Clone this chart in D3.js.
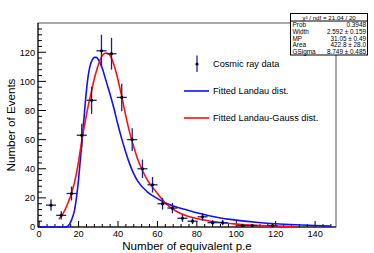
<!DOCTYPE html>
<html><head><meta charset="utf-8">
<script src="https://cdn.jsdelivr.net/npm/d3@7"></script>
<style>
html,body{margin:0;padding:0;background:#fff;}
svg{display:block;font-family:"Liberation Sans",Arial,Helvetica,sans-serif;}
</style></head>
<body><svg id="c" width="374" height="253"></svg>
<script>
// ---- data ----
const binCenters = [6.0, 11.2, 16.4, 21.6, 26.6, 31.6, 36.7, 41.9, 47.2, 52.4, 57.5, 62.6, 67.6, 72.7, 77.8, 82.9, 88.0, 93.1, 103.0, 108.1, 118.4];
const counts     = [15, 8, 23, 63, 87, 121, 119, 89, 60, 40, 29, 16, 13, 6, 4, 7, 3, 3, 1, 1, 1];
const binHalfWidth = 2.55;

const landauX = [0, 13, 14.5, 16, 17, 18, 19, 20, 21, 22, 23, 24, 25, 26, 27, 28, 29, 30, 31, 32, 34, 36, 38, 40, 42, 44, 46, 48, 50, 55, 60, 65, 70, 75, 80, 90, 100, 110, 120, 130, 140, 148];
const landauY = [0, 0, 0.5, 3.5, 7, 12, 21, 33, 48, 63, 79, 94, 105, 111.5, 115, 116.5, 116.5, 115, 112.5, 109, 100, 91, 81, 70, 60, 51, 43, 36.5, 31.5, 24, 19.5, 16, 13.5, 11.7, 9.8, 6.7, 4.7, 3.3, 2.2, 1.5, 1.0, 0.7];

const lgX = [10, 11, 12, 13, 14, 15, 16, 17, 18, 19, 20, 21, 22, 23, 24, 25, 26, 27, 28, 29, 30, 31, 32, 33, 34, 35, 36, 37, 38, 39, 40, 41, 42, 43, 44, 45, 46, 47, 48, 50, 52, 54, 56, 58, 60, 63, 66, 70, 75, 80, 90, 100, 110, 120, 130];
const lgY = [5.3, 7, 9, 11.5, 14.5, 18, 21.5, 26, 31, 37.5, 45, 54, 62.5, 70, 77, 84, 90, 96, 102, 107, 111.5, 115, 117.5, 119, 119.5, 119, 117.5, 115, 111, 106.5, 101, 95, 89, 82.5, 76, 70, 64.5, 59.5, 55, 46.5, 40, 34.5, 30, 26.5, 23, 18, 14, 10.5, 7.6, 5.8, 3.4, 2.0, 1.1, 0.6, 0.3];

const xTicks = [0, 20, 40, 60, 80, 100, 120, 140];
const yTicks = [0, 20, 40, 60, 80, 100, 120];

const legendLabels = ["Cosmic ray data", "Fitted Landau dist.", "Fitted Landau-Gauss dist."];
const statsTitle = "\u03C7\u00B2 / ndf = 21.04 / 20";
const statsNames = ["Prob", "Width", "MP", "Area", "GSigma"];
const statsValues = ["0.3948", "2.592 \u00B1 0.159", "31.05 \u00B1 0.49", "422.8 \u00B1 28.0", "8.749 \u00B1 0.485"];

// ---- layout ----
const L = 38, R = 336, T = 23, B = 227;
const svg = d3.select("#c");
const x = d3.scaleLinear().domain([-0.6, 150.6]).range([L, R]);
const y = d3.scaleLinear().domain([0, 140.1]).range([B, T]);

// frame
svg.append("rect").attr("x", L).attr("y", T).attr("width", R - L).attr("height", B - T)
  .attr("fill", "none").attr("stroke", "#555").attr("stroke-width", 1);

// axes ticks (inward)
const minorX = d3.range(0, 151, 4).filter(v => v % 20 !== 0);
const minorY = d3.range(0, 140, 4).filter(v => v % 20 !== 0);
const gx = svg.append("g");
gx.selectAll("line.M").data(xTicks).join("line")
  .attr("x1", d => x(d)).attr("x2", d => x(d)).attr("y1", B).attr("y2", B - 6)
  .attr("stroke", "#000").attr("stroke-width", 1);
gx.selectAll("line.m").data(minorX).join("line").attr("class", "m")
  .attr("x1", d => x(d)).attr("x2", d => x(d)).attr("y1", B).attr("y2", B - 3)
  .attr("stroke", "#000").attr("stroke-width", 1);
gx.selectAll("text").data(xTicks).join("text")
  .attr("x", d => x(d)).attr("y", 236.5).attr("text-anchor", "middle")
  .attr("font-size", 9.2).attr("fill", "#000").text(d => d);

const gy = svg.append("g");
gy.selectAll("line.M").data(yTicks).join("line")
  .attr("x1", L).attr("x2", L + 8).attr("y1", d => y(d)).attr("y2", d => y(d))
  .attr("stroke", "#000").attr("stroke-width", 1);
gy.selectAll("line.m").data(minorY).join("line").attr("class", "m")
  .attr("x1", L).attr("x2", L + 4).attr("y1", d => y(d)).attr("y2", d => y(d))
  .attr("stroke", "#000").attr("stroke-width", 1);
gy.selectAll("text").data(yTicks).join("text")
  .attr("x", 35).attr("y", d => y(d) + 3.3).attr("text-anchor", "end")
  .attr("font-size", 9.2).attr("fill", "#000").text(d => d);

// axis lines
svg.append("line").attr("x1", L).attr("x2", R).attr("y1", B).attr("y2", B).attr("stroke", "#000");
svg.append("line").attr("x1", L).attr("x2", L).attr("y1", T).attr("y2", B).attr("stroke", "#000");

// axis titles
svg.append("text").attr("x", (L + R) / 2).attr("y", 250).attr("text-anchor", "middle")
  .attr("font-size", 11.6).text("Number of equivalent p.e");
svg.append("text").attr("transform", `translate(15,${(T + B) / 2}) rotate(-90)`)
  .attr("text-anchor", "middle").attr("font-size", 11.6).text("Number of Events");

// curves
const line = d3.line().curve(d3.curveMonotoneX);
svg.append("path").attr("d", line(landauX.map((v, i) => [x(v), y(landauY[i])])))
  .attr("fill", "none").attr("stroke", "#1010ff").attr("stroke-width", 1.6);
svg.append("path").attr("d", line(lgX.map((v, i) => [x(v), y(lgY[i])])))
  .attr("fill", "none").attr("stroke", "#ff1010").attr("stroke-width", 1.6);

// data points
const pts = binCenters.map((c, i) => ({ c, n: counts[i], e: Math.sqrt(counts[i]) }));
const gp = svg.append("g");
gp.selectAll("line.v").data(pts).join("line")
  .attr("x1", d => x(d.c)).attr("x2", d => x(d.c))
  .attr("y1", d => y(d.n + d.e)).attr("y2", d => y(Math.max(0, d.n - d.e)))
  .attr("stroke", "#1e1e8c").attr("stroke-width", 1.3);
gp.selectAll("line.h").data(pts).join("line")
  .attr("x1", d => x(d.c - binHalfWidth)).attr("x2", d => x(d.c + binHalfWidth))
  .attr("y1", d => y(d.n)).attr("y2", d => y(d.n))
  .attr("stroke", "#1e1e8c").attr("stroke-width", 1.3);
gp.selectAll("circle").data(pts).join("circle")
  .attr("cx", d => x(d.c)).attr("cy", d => y(d.n)).attr("r", 1.6).attr("fill", "#000");

// legend
const lg = svg.append("g");
lg.append("line").attr("x1", 197).attr("x2", 197).attr("y1", 55.5).attr("y2", 72)
  .attr("stroke", "#3030c0").attr("stroke-width", 1.4);
lg.append("circle").attr("cx", 197).attr("cy", 64).attr("r", 1.6).attr("fill", "#000");
lg.append("line").attr("x1", 184).attr("x2", 209).attr("y1", 91).attr("y2", 91)
  .attr("stroke", "#1010ff").attr("stroke-width", 1.6);
lg.append("line").attr("x1", 184).attr("x2", 209).attr("y1", 118).attr("y2", 118)
  .attr("stroke", "#ff1010").attr("stroke-width", 1.6);
lg.selectAll("text").data(legendLabels).join("text")
  .attr("x", 213).attr("y", (d, i) => [64, 91, 118][i] + 3.3)
  .attr("font-size", 9.2).text(d => d);

// stats box
const sb = svg.append("g");
sb.append("rect").attr("x", 290.5).attr("y", 13.5).attr("width", 77).attr("height", 41.5)
  .attr("fill", "#fff").attr("stroke", "#000").attr("stroke-width", 1);
sb.append("line").attr("x1", 290.5).attr("x2", 367.5).attr("y1", 21).attr("y2", 21)
  .attr("stroke", "#000").attr("stroke-width", 1);
sb.append("text").attr("x", 329).attr("y", 19.5).attr("text-anchor", "middle")
  .attr("font-size", 6.2).text(statsTitle);
sb.selectAll("text.n").data(statsNames).join("text").attr("class", "n")
  .attr("x", 292.5).attr("y", (d, i) => 27 + i * 6.8).attr("font-size", 6.4).text(d => d);
sb.selectAll("text.v").data(statsValues).join("text").attr("class", "v")
  .attr("x", 366).attr("y", (d, i) => 27 + i * 6.8).attr("text-anchor", "end")
  .attr("font-size", 6.4).text(d => d);
</script></body></html>
